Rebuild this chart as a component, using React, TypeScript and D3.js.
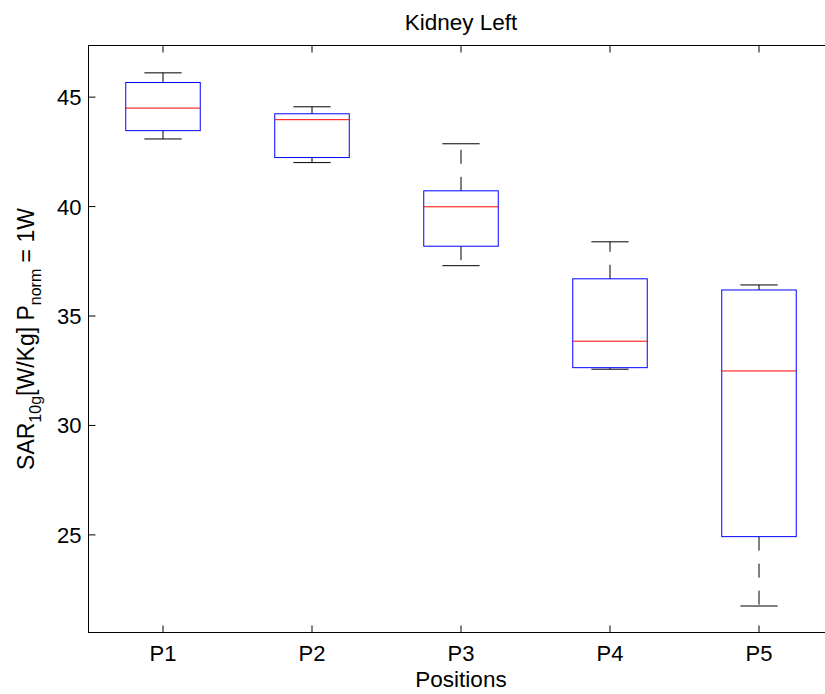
import React from 'react';
import {scaleLinear} from 'd3';

const positions = ['P1', 'P2', 'P3', 'P4', 'P5'];
const whiskerLow = [43.09, 42.01, 37.30, 32.57, 21.75];
const q1 = [43.47, 42.24, 38.19, 32.64, 24.92];
const median = [44.50, 43.97, 39.99, 33.85, 32.49];
const q3 = [45.67, 44.24, 40.72, 36.70, 36.19];
const whiskerHigh = [46.11, 44.56, 42.87, 38.39, 36.42];
const yTicks = [25, 30, 35, 40, 45];

const W = 825;
const H = 694;
const left = 88.5, right = 833.5, top = 45.5, bottom = 632.5;
const font = '"Liberation Sans", Arial, Helvetica, sans-serif';

export default function App() {
  const x = scaleLinear().domain([0.5, positions.length + 0.5]).range([left, right]);
  const y = scaleLinear().domain([20.54, 47.36]).range([bottom, top]);
  const tick = 7;

  return (
    <svg xmlns="http://www.w3.org/2000/svg" width={W} height={H}
      style={{position: 'absolute', left: 0, top: 0, background: '#fff'}}
      fontFamily={font}>
      <rect x={0} y={0} width={W} height={H} fill="#fff" />

      {positions.map((p, i) => {
        const cx = x(i + 1);
        const bw = x(1.25) - x(1);
        const cw = x(1.125) - x(1);
        return (
          <g key={p}>
            <line x1={cx} x2={cx} y1={y(q3[i])} y2={y(whiskerHigh[i])}
              stroke="#000" strokeWidth="1" strokeDasharray="14 13" />
            <line x1={cx} x2={cx} y1={y(q1[i])} y2={y(whiskerLow[i])}
              stroke="#000" strokeWidth="1" strokeDasharray="14 13" />
            <line x1={cx - cw} x2={cx + cw} y1={y(whiskerHigh[i])} y2={y(whiskerHigh[i])}
              stroke="#000" strokeWidth="1" />
            <line x1={cx - cw} x2={cx + cw} y1={y(whiskerLow[i])} y2={y(whiskerLow[i])}
              stroke="#000" strokeWidth="1" />
            <rect x={cx - bw} width={bw * 2} y={y(q3[i])} height={y(q1[i]) - y(q3[i])}
              fill="none" stroke="#0000ff" strokeWidth="1" />
            <line x1={cx - bw} x2={cx + bw} y1={y(median[i])} y2={y(median[i])}
              stroke="#ff0000" strokeWidth="1" />
          </g>
        );
      })}

      {/* axes box */}
      <rect x={left} y={top} width={right - left} height={bottom - top}
        fill="none" stroke="#000" strokeWidth="1" />

      {yTicks.map(t => (
        <g key={t}>
          <line x1={left} x2={left + tick} y1={y(t)} y2={y(t)} stroke="#000" />
          <line x1={right} x2={right - tick} y1={y(t)} y2={y(t)} stroke="#000" />
          <text x={left - 7} y={y(t)} dy="0.36em" textAnchor="end" fontSize="22">{t}</text>
        </g>
      ))}

      {positions.map((p, i) => (
        <g key={p}>
          <line x1={x(i + 1)} x2={x(i + 1)} y1={bottom} y2={bottom - tick} stroke="#000" />
          <line x1={x(i + 1)} x2={x(i + 1)} y1={top} y2={top + tick} stroke="#000" />
          <text x={x(i + 1)} y={661} textAnchor="middle" fontSize="22">{p}</text>
        </g>
      ))}

      <text x={(left + right) / 2} y={30} textAnchor="middle" fontSize="22.5">Kidney Left</text>
      <text x={(left + right) / 2} y={687} textAnchor="middle" fontSize="22.5">Positions</text>

      <text transform={`translate(34,${(top + bottom) / 2}) rotate(-90)`} textAnchor="middle" fontSize="23">
        SAR<tspan fontSize="16" dy="7">10g</tspan><tspan dy="-7">[W/Kg] P</tspan><tspan fontSize="16" dy="7">norm</tspan><tspan dy="-7"> = 1W</tspan>
      </text>
    </svg>
  );
}
